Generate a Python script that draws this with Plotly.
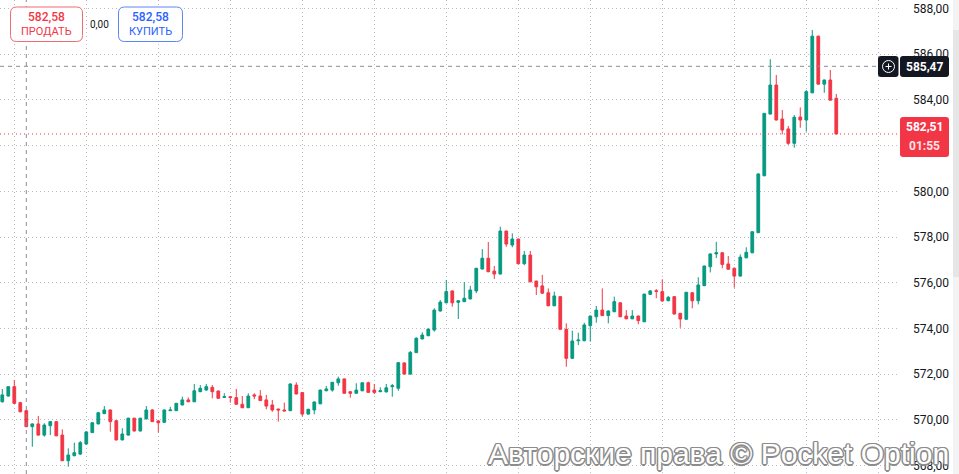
import plotly.graph_objects as go

# ---------------- data ----------------
opens = [
    570.79, 571.04, 571.45, 570.75, 570.40, 569.70, 569.82, 569.33, 569.74, 569.92,
    569.33, 568.21, 568.43, 568.50, 568.94, 569.44, 569.82, 570.27, 570.43, 569.96,
    569.12, 569.33, 570.07, 569.51, 570.04, 570.43, 569.95, 569.89, 570.40, 570.40,
    570.65, 570.87, 570.79, 571.23, 571.30, 571.42, 571.26, 570.98, 571.01, 570.97,
    570.68, 570.53, 571.09, 571.04, 570.87, 570.65, 570.47, 570.43, 570.40, 571.52,
    571.19, 570.25, 570.43, 570.70, 571.27, 571.30, 571.62, 571.79, 571.23, 571.16,
    571.27, 571.62, 571.30, 571.23, 571.22, 571.45, 571.38, 572.49, 572.00, 572.94,
    573.54, 573.68, 573.93, 574.76, 575.12, 575.64, 575.14, 575.17, 575.29, 575.64,
    576.60, 577.07, 576.51, 576.38, 578.26, 577.65, 577.91, 576.83, 577.21, 576.07,
    575.86, 575.56, 574.99, 575.39, 573.96, 572.69, 573.46, 573.46, 574.12, 574.51,
    574.80, 574.56, 574.73, 575.12, 574.54, 574.42, 574.54, 574.29, 575.49, 575.65,
    575.61, 575.21, 575.39, 574.66, 574.40, 575.56, 575.21, 575.87, 576.70, 577.26,
    577.31, 576.82, 576.63, 576.29, 577.09, 577.31, 578.19, 580.68, 583.38, 584.65,
    583.16, 582.73, 582.10, 583.25, 583.12, 584.31, 586.79, 584.69, 584.87, 584.07,
]
highs = [
    571.35, 571.47, 571.74, 570.79, 570.42, 569.84, 570.17, 569.85, 569.94, 569.94,
    569.58, 568.75, 569.00, 569.07, 569.50, 569.90, 570.35, 570.60, 570.45, 569.98,
    569.63, 570.09, 570.09, 570.09, 570.60, 570.47, 569.99, 570.45, 570.57, 570.74,
    571.01, 570.98, 571.57, 571.52, 571.57, 571.52, 571.28, 571.16, 571.03, 571.35,
    571.04, 571.16, 571.16, 571.30, 571.09, 570.87, 570.49, 570.75, 571.59, 571.64,
    571.21, 570.48, 570.80, 571.32, 571.48, 571.66, 571.89, 571.81, 571.25, 571.60,
    571.64, 571.67, 571.57, 571.42, 571.57, 571.57, 572.52, 572.51, 573.01, 573.61,
    573.83, 573.99, 574.88, 575.24, 576.12, 575.66, 575.23, 576.03, 575.86, 576.65,
    577.47, 577.78, 576.73, 578.45, 578.28, 578.16, 577.93, 577.39, 577.39, 576.09,
    576.34, 575.75, 575.61, 575.41, 574.22, 573.90, 573.81, 574.25, 574.56, 574.98,
    575.75, 574.80, 575.39, 575.14, 574.80, 574.80, 574.56, 575.52, 575.68, 575.72,
    576.15, 575.42, 575.41, 574.68, 575.60, 575.58, 576.24, 576.75, 577.28, 577.79,
    577.33, 577.17, 576.67, 577.24, 577.55, 578.25, 580.78, 583.43, 585.78, 585.09,
    583.56, 582.86, 583.34, 583.67, 584.43, 587.06, 586.81, 584.89, 585.31, 584.26,
]
lows = [
    570.75, 571.01, 570.70, 570.33, 569.68, 568.82, 569.31, 569.26, 569.33, 569.28,
    568.19, 567.95, 568.40, 568.46, 568.92, 569.42, 569.80, 570.25, 569.48, 569.09,
    569.10, 569.31, 569.49, 569.49, 570.02, 569.90, 569.44, 569.87, 570.38, 570.38,
    570.63, 570.77, 570.77, 571.21, 571.28, 570.94, 570.92, 570.96, 570.75, 570.66,
    570.51, 570.51, 570.90, 570.82, 570.46, 570.35, 569.92, 570.37, 570.38, 571.11,
    570.14, 570.23, 570.24, 570.68, 571.25, 571.23, 571.49, 571.14, 570.97, 571.14,
    571.25, 571.18, 571.13, 571.21, 571.20, 571.01, 571.27, 571.98, 571.98, 572.92,
    573.52, 573.66, 573.86, 574.74, 575.10, 574.95, 574.41, 575.15, 575.27, 575.54,
    576.58, 576.46, 576.16, 576.36, 577.57, 577.55, 576.81, 576.77, 576.02, 575.46,
    575.52, 574.97, 574.97, 573.94, 572.32, 572.67, 573.27, 573.44, 573.42, 574.25,
    574.54, 574.22, 574.71, 574.49, 574.40, 574.40, 574.18, 574.27, 575.47, 575.32,
    575.18, 575.19, 574.61, 574.03, 574.38, 574.88, 575.05, 575.85, 576.45, 577.08,
    576.63, 576.57, 575.78, 576.27, 577.07, 577.29, 578.17, 580.66, 583.36, 583.10,
    582.49, 582.03, 581.91, 582.78, 582.61, 584.29, 584.67, 584.31, 583.97, 582.49,
]
closes = [
    571.09, 571.45, 570.72, 570.35, 569.70, 569.82, 569.33, 569.77, 569.92, 569.30,
    568.21, 568.46, 568.56, 569.00, 569.47, 569.87, 570.31, 570.43, 569.92, 569.12,
    569.38, 570.07, 569.51, 570.07, 570.43, 569.92, 569.87, 570.43, 570.43, 570.72,
    570.87, 570.79, 571.27, 571.38, 571.45, 571.23, 570.94, 571.01, 570.98, 570.68,
    570.53, 571.04, 571.04, 570.84, 570.60, 570.43, 570.43, 570.39, 571.57, 571.13,
    570.25, 570.46, 570.78, 571.30, 571.35, 571.64, 571.79, 571.16, 571.16, 571.30,
    571.62, 571.20, 571.20, 571.27, 571.40, 571.49, 572.50, 572.00, 572.95, 573.57,
    573.71, 573.97, 574.80, 575.15, 575.61, 575.12, 575.21, 575.32, 575.68, 576.63,
    577.07, 576.48, 576.38, 578.26, 577.69, 577.91, 576.83, 577.21, 576.04, 575.82,
    575.54, 574.99, 575.42, 573.96, 572.69, 573.45, 573.49, 574.15, 574.54, 574.80,
    574.56, 574.76, 575.17, 574.51, 574.42, 574.54, 574.34, 575.50, 575.64, 575.62,
    575.20, 575.36, 574.63, 574.41, 575.58, 575.21, 575.90, 576.73, 577.26, 577.31,
    576.80, 576.59, 576.29, 577.12, 577.33, 578.23, 580.76, 583.41, 584.65, 583.12,
    582.68, 582.10, 583.24, 583.12, 584.36, 586.79, 584.69, 584.87, 583.99, 582.51,
]
bars = list(range(len(opens)))

# price-axis labels (582,00 sits under the last-price badge in the reference)
tick_values = [568, 570, 572, 574, 576, 578, 580, 584, 586, 588]
hidden_grid_value = 582

sell_price = "582,58"
buy_price = "582,58"
spread_text = "0,00"
crosshair_bar = 4
crosshair_price = 585.47
last_price = 582.51
last_price_text = "582,51"
countdown_text = "01:55"
crosshair_text = "585,47"
watermark = "Авторские права © Pocket Option"

# ---------------- figure ----------------
GREEN = "#089981"
RED = "#f23645"
GRID = "#b9bcc4"
FIG_W, FIG_H = 959, 474
PLOT_W = 900

def px(x):
    return x / PLOT_W

def py(y):
    return 1 - y / FIG_H

def rrect(x0, y0, x1, y1, r):
    return (f"M{px(x0 + r)},{py(y0)} L{px(x1 - r)},{py(y0)} "
            f"Q{px(x1)},{py(y0)} {px(x1)},{py(y0 + r)} L{px(x1)},{py(y1 - r)} "
            f"Q{px(x1)},{py(y1)} {px(x1 - r)},{py(y1)} L{px(x0 + r)},{py(y1)} "
            f"Q{px(x0)},{py(y1)} {px(x0)},{py(y1 - r)} L{px(x0)},{py(y0 + r)} "
            f"Q{px(x0)},{py(y0)} {px(x0 + r)},{py(y0)} Z")

fig = go.Figure(go.Candlestick(
    x=bars, open=opens, high=highs, low=lows, close=closes,
    increasing=dict(line=dict(color=GREEN, width=1), fillcolor=GREEN),
    decreasing=dict(line=dict(color=RED, width=1), fillcolor=RED),
    whiskerwidth=0, hoverinfo="skip", showlegend=False,
))

shapes = []
# grid line whose label is covered
shapes.append(dict(type="line", xref="paper", yref="y", x0=0, x1=1, layer="below",
                   y0=hidden_grid_value, y1=hidden_grid_value,
                   line=dict(color=GRID, width=1, dash="1px,3px")))
# crosshair
shapes.append(dict(type="line", xref="x", yref="paper", x0=crosshair_bar, x1=crosshair_bar,
                   y0=0, y1=1, line=dict(color="#8a8d96", width=1, dash="4px,4px")))
shapes.append(dict(type="line", xref="paper", yref="y", x0=0, x1=px(878),
                   y0=crosshair_price, y1=crosshair_price,
                   line=dict(color="#8a8d96", width=1, dash="4px,4px")))
# last price dotted line
shapes.append(dict(type="line", xref="paper", yref="y", x0=0, x1=1,
                   y0=last_price, y1=last_price,
                   line=dict(color=RED, width=1, dash="1px,3px")))
# crosshair label
shapes.append(dict(type="path", xref="paper", yref="paper", path=rrect(878, 56, 898.5, 77, 3),
                   fillcolor="#131722", line=dict(width=0)))
shapes.append(dict(type="path", xref="paper", yref="paper", path=rrect(900, 56, 949, 77, 3),
                   fillcolor="#131722", line=dict(width=0)))
shapes.append(dict(type="circle", xref="paper", yref="paper",
                   x0=px(882.5), x1=px(894.5), y0=py(60.5), y1=py(72.5),
                   line=dict(color="white", width=1)))
shapes.append(dict(type="line", xref="paper", yref="paper",
                   x0=px(885.5), x1=px(891.5), y0=py(66.5), y1=py(66.5),
                   line=dict(color="white", width=1)))
shapes.append(dict(type="line", xref="paper", yref="paper",
                   x0=px(888.5), x1=px(888.5), y0=py(63.5), y1=py(69.5),
                   line=dict(color="white", width=1)))
# last price label
shapes.append(dict(type="path", xref="paper", yref="paper", path=rrect(900, 117, 949, 157, 3),
                   fillcolor=RED, line=dict(width=0)))
# buttons
shapes.append(dict(type="path", xref="paper", yref="paper", path=rrect(10.5, 7, 82.5, 41.5, 6),
                   fillcolor="white", line=dict(color="#ef6b75", width=1)))
shapes.append(dict(type="path", xref="paper", yref="paper", path=rrect(118.5, 7, 182.5, 41.5, 6),
                   fillcolor="white", line=dict(color="#5c86f7", width=1)))
# right scroll strip
shapes.append(dict(type="rect", xref="paper", yref="paper", x0=px(953), x1=px(959),
                   y0=0, y1=1, fillcolor="#f3f3f3", line=dict(width=0)))
shapes.append(dict(type="rect", xref="paper", yref="paper", x0=px(953), x1=px(959),
                   y0=py(277), y1=py(30), fillcolor="#e6e6e6", line=dict(width=0)))

ann = []
def text(x, y, s, color, size=12, weight=400, family="Roboto"):
    ann.append(dict(xref="paper", yref="paper", x=px(x), y=py(y), text=s, showarrow=False,
                    xanchor="center", yanchor="middle",
                    font=dict(color=color, size=size, family=family, weight=weight)))

text(46.5, 17, sell_price, "#f23645", 12, 500)
text(46.5, 32, "ПРОДАТЬ", "#f23645", 11)
text(99, 24.5, spread_text, "#131722", 10)
text(150.5, 17, buy_price, "#2962ff", 12, 500)
text(150.5, 32, "КУПИТЬ", "#2962ff", 11)
text(925, 66.5, crosshair_text, "white", 12, 700)
text(925, 127, last_price_text, "white", 12, 700)
text(925, 146, countdown_text, "#fde3e5", 12, 700)
ann.append(dict(xref="paper", yref="paper", x=px(718), y=py(453), text=watermark, showarrow=False,
                xanchor="center", yanchor="middle",
                font=dict(color="white", size=30, family="Liberation Sans",
                          shadow="-1.5px 0 0 #8c8c8c, 1.5px 0 0 #8c8c8c, 0 -1.5px 0 #8c8c8c, 0 1.5px 0 #8c8c8c, -1px -1px 0 #8c8c8c, 1px 1px 0 #8c8c8c, -1px 1px 0 #8c8c8c, 1px -1px 0 #8c8c8c")))

fig.update_layout(
    width=FIG_W, height=FIG_H,
    margin=dict(l=0, r=FIG_W - PLOT_W, t=0, b=0),
    paper_bgcolor="white", plot_bgcolor="white",
    separators=", ",
    boxgap=0.35,
    showlegend=False,
    hovermode=False,
    shapes=shapes,
    annotations=ann,
    xaxis=dict(range=[-0.383, 149.62], showticklabels=False, showgrid=True,
               gridcolor=GRID, griddash="1px,3px", gridwidth=1,
               tick0=2, dtick=12, zeroline=False, showline=False,
               rangeslider=dict(visible=False), fixedrange=True),
    yaxis=dict(side="right", range=[567.628, 588.372], tickmode="array",
               tickvals=tick_values,
               tickformat=".2f", showgrid=True, gridcolor=GRID, griddash="1px,3px",
               gridwidth=1, zeroline=False, showline=False, ticks="",
               ticklabelstandoff=12,
               tickfont=dict(family="Roboto", size=12, color="#131722"),
               fixedrange=True),
)

fig.write_html("out.html")
